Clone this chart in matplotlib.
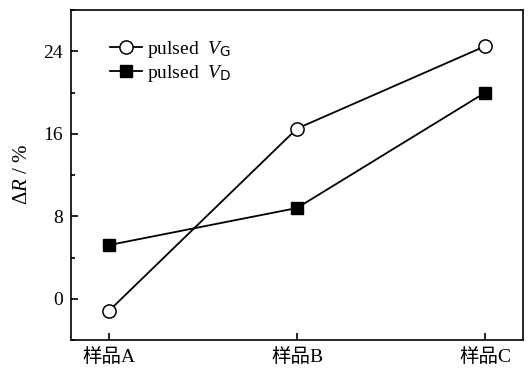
import numpy as np
import matplotlib
matplotlib.use("Agg")
import matplotlib.pyplot as plt
from matplotlib.ticker import MultipleLocator

plt.rcParams.update({
    "font.family": ["Liberation Serif", "Noto Sans CJK SC"],
    "mathtext.fontset": "custom",
    "mathtext.rm": "Liberation Serif",
    "mathtext.it": "Liberation Serif:italic",
    "mathtext.sf": "DejaVu Sans",
    "font.size": 14,
    "axes.linewidth": 1.2,
})

samples = ["样品A", "样品B", "样品C"]
pulsed_vg = [-1.2, 16.5, 24.5]
pulsed_vd = [5.2, 8.8, 20.0]

fig = plt.figure(figsize=(5.29, 3.68), dpi=100)
ax = fig.add_axes([71 / 529, 28 / 368, 452 / 529, 330 / 368])
x = np.arange(len(samples))
ax.plot(x, pulsed_vg, color="k", lw=1.3, marker="o", ms=9.5, mfc="white",
        mec="k", mew=1.1, label=r"pulsed  $V_{\mathsf{G}}$")
ax.plot(x, pulsed_vd, color="k", lw=1.3, marker="s", ms=9, mfc="k",
        mec="k", label=r"pulsed  $V_{\mathsf{D}}$")

ax.set_xlim(-0.2, 2.2)
ax.set_ylim(-4, 28)
ax.set_xticks(x)
ax.set_xticklabels(samples)
ax.yaxis.set_major_locator(MultipleLocator(8))
ax.yaxis.set_minor_locator(MultipleLocator(4))
ax.tick_params(direction="in", length=5, width=1.2, pad=6)
ax.tick_params(which="minor", direction="in", length=3, width=1.2)
ax.set_ylabel(r"$\Delta \mathit{R}\ /\ \%$", labelpad=8, fontsize=15)

ax.legend(loc="upper left", bbox_to_anchor=(0.07, 0.935), frameon=False,
          handlelength=1.6, handletextpad=0.3, labelspacing=0.15, borderaxespad=0)

fig.savefig("out.png", dpi=100)
